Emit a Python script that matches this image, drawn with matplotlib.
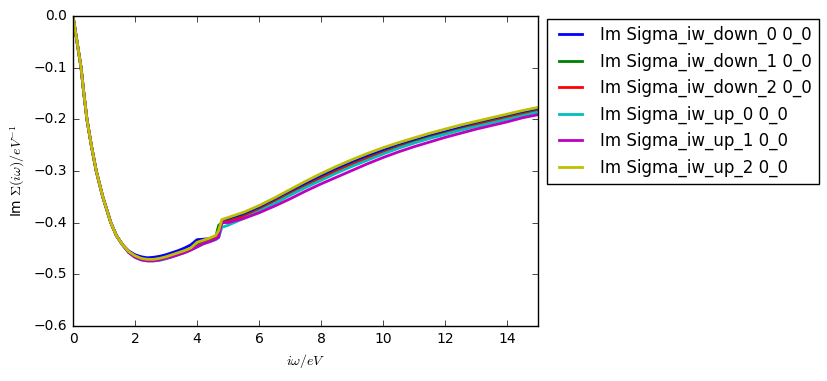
import matplotlib
matplotlib.use("Agg")
import matplotlib.pyplot as plt

plt.style.use("classic")

freq = [0.0, 0.13, 0.26, 0.35, 0.45, 0.59, 0.75, 0.96, 1.22, 1.4, 1.6,
        1.8, 2.0, 2.2, 2.4, 2.6, 2.8, 3.0, 3.2, 3.4, 3.6, 3.8, 4.0, 4.2, 4.4, 4.6, 4.7,
        4.8,
        5.0, 5.5, 6.0, 6.5, 7.0, 7.5, 8.0, 8.5, 9.0, 9.5, 10.0, 10.5, 11.0, 11.5,
        12.0, 12.5, 13.0, 13.5, 14.0, 14.5, 15.0]

common_low = [0.0, -0.05, -0.10, -0.15, -0.20, -0.25, -0.30, -0.35, -0.40, -0.425, -0.443]

down_0 = common_low + [-0.455, -0.462, -0.466, -0.468, -0.467, -0.465, -0.462, -0.458, -0.454,
                       -0.449, -0.443, -0.433, -0.432, -0.431, -0.428, -0.420,
                       -0.397,
                       -0.394, -0.384, -0.371, -0.356, -0.340, -0.325, -0.310, -0.296, -0.283,
                       -0.271, -0.260, -0.250, -0.241, -0.232, -0.224, -0.216, -0.208, -0.201,
                       -0.194, -0.187, -0.181]
down_1 = common_low + [-0.457, -0.466, -0.471, -0.473, -0.473, -0.471, -0.468, -0.464, -0.460,
                       -0.456, -0.451, -0.444, -0.437, -0.433, -0.428, -0.405,
                       -0.400,
                       -0.397, -0.388, -0.375, -0.360, -0.344, -0.329, -0.314, -0.300, -0.287,
                       -0.275, -0.264, -0.253, -0.244, -0.235, -0.227, -0.219, -0.211, -0.204,
                       -0.197, -0.190, -0.184]
down_2 = common_low + [-0.457, -0.466, -0.471, -0.473, -0.473, -0.471, -0.468, -0.465, -0.461,
                       -0.457, -0.452, -0.446, -0.440, -0.436, -0.432, -0.422,
                       -0.401,
                       -0.398, -0.389, -0.376, -0.361, -0.345, -0.330, -0.315, -0.301, -0.288,
                       -0.276, -0.265, -0.254, -0.245, -0.236, -0.228, -0.220, -0.212, -0.205,
                       -0.198, -0.191, -0.185]
up_0 = common_low + [-0.458, -0.467, -0.472, -0.474, -0.474, -0.473, -0.470, -0.466, -0.462,
                     -0.458, -0.453, -0.447, -0.441, -0.437, -0.433, -0.429,
                     -0.409,
                     -0.405, -0.392, -0.378, -0.363, -0.347, -0.332, -0.318, -0.304, -0.291,
                     -0.279, -0.267, -0.256, -0.246, -0.237, -0.229, -0.221, -0.214, -0.207,
                     -0.200, -0.193, -0.186]
up_1 = common_low + [-0.458, -0.467, -0.472, -0.474, -0.474, -0.472, -0.469, -0.466, -0.462,
                     -0.458, -0.453, -0.447, -0.441, -0.437, -0.432, -0.428,
                     -0.398,
                     -0.400, -0.392, -0.381, -0.368, -0.354, -0.339, -0.325, -0.312, -0.299,
                     -0.286, -0.274, -0.263, -0.253, -0.244, -0.235, -0.227, -0.219, -0.212,
                     -0.205, -0.197, -0.191]
up_2 = common_low + [-0.456, -0.464, -0.469, -0.471, -0.471, -0.469, -0.466, -0.462, -0.458,
                     -0.454, -0.449, -0.438, -0.434, -0.430, -0.425, -0.415,
                     -0.394,
                     -0.390, -0.380, -0.367, -0.352, -0.336, -0.320, -0.305, -0.291, -0.278,
                     -0.266, -0.255, -0.245, -0.236, -0.227, -0.219, -0.211, -0.204, -0.197,
                     -0.190, -0.183, -0.177]

labels = ["Im Sigma_iw_down_0 0_0", "Im Sigma_iw_down_1 0_0", "Im Sigma_iw_down_2 0_0",
          "Im Sigma_iw_up_0 0_0", "Im Sigma_iw_up_1 0_0", "Im Sigma_iw_up_2 0_0"]
series = [down_0, down_1, down_2, up_0, up_1, up_2]
colors = ["b", "g", "r", "c", "m", "y"]

fig = plt.figure(figsize=(8.27, 3.81), dpi=100, facecolor="white")
ax = fig.add_axes([73 / 827, 1 - 326 / 381, 465 / 827, 310 / 381])
for vals, lab, col in zip(series, labels, colors):
    ax.plot(freq, vals, color=col, lw=2, label=lab)

ax.set_xlim(0, 15)
ax.set_ylim(-0.6, 0.0)
ax.tick_params(labelsize=10)
ax.set_xlabel(r"$i\omega/eV$", fontsize=10)
ax.set_ylabel(r"Im $\Sigma(i\omega)/eV^{-1}$", fontsize=10)
ax.legend(loc="upper left", bbox_to_anchor=(1.019, 0.99), borderaxespad=0.0,
          fontsize=12, frameon=True)
fig.savefig("out.png", dpi=100, facecolor="white")
